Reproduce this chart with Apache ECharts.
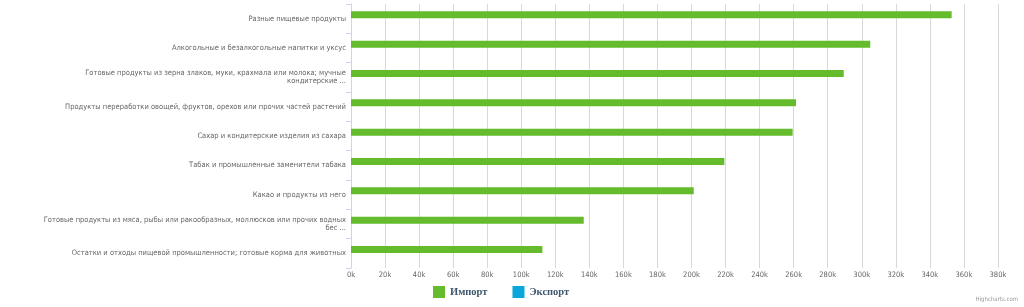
<!DOCTYPE html>
<html>
<head>
<meta charset="utf-8">
<script src="https://cdn.jsdelivr.net/npm/echarts@6/dist/echarts.min.js"></script>
<style>html,body{margin:0;padding:0;background:#fff}#c{width:1024px;height:307px}</style>
</head>
<body>
<div id="c"></div>
<script>
var categories = [
  "Разные пищевые продукты",
  "Алкогольные и безалкогольные напитки и уксус",
  "Готовые продукты из зерна злаков, муки, крахмала или молока; мучные\nкондитерские ...",
  "Продукты переработки овощей, фруктов, орехов или прочих частей растений",
  "Сахар и кондитерские изделия из сахара",
  "Табак и промышленные заменители табака",
  "Какао и продукты из него",
  "Готовые продукты из мяса, рыбы или ракообразных, моллюсков или прочих водных\nбес ...",
  "Остатки и отходы пищевой промышленности; готовые корма для животных"
];
var importValues = [352800, 305000, 289400, 261400, 259400, 219300, 201300, 136700, 112400];
var exportValues = [null, null, null, null, null, null, null, null, null];
var seriesNames = ["Импорт", "Экспорт"];

var chart = echarts.init(document.getElementById('c'), null, {renderer: 'canvas'});
var font = '"DejaVu Sans Condensed", "DejaVu Sans", sans-serif';
chart.setOption({
  animation: false,
  grid: {left: 351, top: 4, right: -8, bottom: 39, containLabel: false, outerBoundsMode: 'none'},
  color: ['#64bb2b', '#0aa6dc'],
  legend: {
    data: seriesNames,
    left: 433, top: 286, padding: 0,
    icon: 'rect', itemWidth: 12, itemHeight: 12, itemGap: 25,
    textStyle: {fontFamily: '"Liberation Serif", serif', fontSize: 10.5, fontWeight: 'bold', color: '#3e576f'}
  },
  xAxis: {
    type: 'value', min: 0, max: 400000, interval: 20000,
    axisLine: {show: false}, axisTick: {show: false},
    splitLine: {lineStyle: {color: '#d8d8d8', width: 1}},
    axisLabel: {color: '#666', fontSize: 7.5, fontFamily: font, margin: 3,
      formatter: function (v) { return v >= 400000 ? '' : (v / 1000) + 'k'; }}
  },
  yAxis: {
    type: 'category', data: categories, inverse: true,
    axisLine: {lineStyle: {color: '#ccd6eb'}},
    axisTick: {show: true, length: 5, lineStyle: {color: '#ccd6eb'}},
    axisLabel: {color: '#666', fontSize: 7.5, fontFamily: font, margin: 5, lineHeight: 8, align: 'right', padding: [5, 0, 0, 0]}
  },
  series: [
    {name: seriesNames[0], type: 'bar', data: importValues, barWidth: 7, barGap: '10%', barCategoryGap: '40%'},
    {name: seriesNames[1], type: 'bar', data: exportValues, barWidth: 7}
  ],
  graphic: [{type: 'text', right: 6, top: 296, style: {text: 'Highcharts.com', fill: '#999', font: '6px ' + font}}]
});
</script>
</body>
</html>
